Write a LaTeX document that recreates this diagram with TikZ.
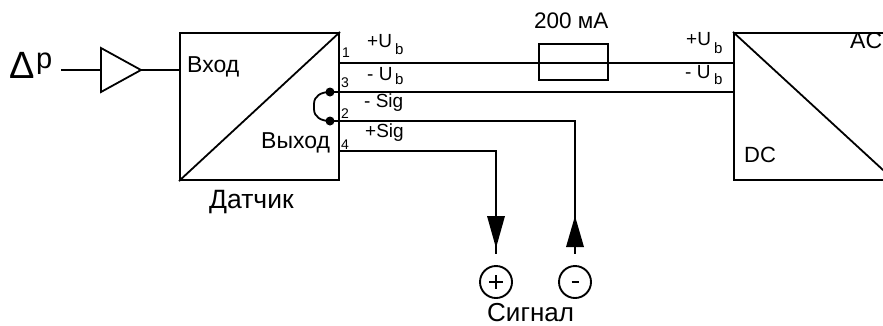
\documentclass[tikz,border=0pt]{standalone}
\usepackage{fontspec}
\setmainfont{Liberation Sans}
\newcommand{\fsz}[1]{\fontsize{#1}{#1}\selectfont}
\tikzset{
  wire/.style={line width=1.8pt},
  blockbox/.style={draw,line width=2pt,minimum width=159pt,minimum height=147pt,inner sep=0pt},
  dcbox/.style={draw,line width=2pt,minimum width=160pt,minimum height=147pt,inner sep=0pt},
  fusebox/.style={draw,line width=1.4pt,minimum width=69pt,minimum height=36pt,inner sep=0pt},
  lbl/.style={inner sep=0pt,anchor=base west,font=\fsz{23}},
  sm/.style={inner sep=0pt,anchor=base west,font=\fsz{19}},
  tiny/.style={inner sep=0pt,anchor=base west,font=\fsz{14}},
  subl/.style={inner sep=0pt,anchor=base west,font=\fsz{15}},
  dotn/.style={circle,fill,inner sep=0pt,minimum size=9pt},
  term/.style={circle,draw,line width=1.9pt,minimum size=32pt,inner sep=0pt},
}
\begin{document}
\begin{tikzpicture}[x=1pt,y=-1pt]
\clip (0,0) rectangle (883,325);
\fill[white] (0,0) rectangle (883,325);
% blocks
\node[blockbox] (sensor) at (259.5,106.5) {};
\draw[wire] (sensor.south west) -- (sensor.north east);
\node[dcbox] (dc) at (814,106.5) {};
\draw[wire] (dc.north west) -- (dc.south east);
% input
\coordinate (inp) at (61,70);
\coordinate (sinp) at (180,70);
\draw[wire,line join=miter] (101,48) coordinate (ta) -- (141,70) coordinate (tb) -- (101,92) coordinate (tc) -- cycle;
\draw[wire] (inp) -- (101,70);
\draw[wire] (tb) -- (sinp);
% outputs
\coordinate (p1) at (339,63);
\coordinate (p4) at (339,151);
\node[dotn] (p3) at (330,92) {};
\node[dotn] (p2) at (330,121) {};
\coordinate (d1) at (734,63);
\coordinate (d2) at (734,92);
\node[fusebox] (fuse) at (573.5,62) {};
\draw[wire] (p1) -- (d1);
\draw[wire] (p3.center) -- (d2);
\draw[wire] (p2.center) -- (575,121) -- (575,254) coordinate (mi);
\draw[wire] (p4) -- (496,151) -- (496,254) coordinate (pl);
\draw[wire] (p3.center) .. controls (321,92) and (314,96) .. (314,104)
  -- (314,109) .. controls (314,117) and (321,121) .. (p2.center);
% arrowheads
\fill (487,216) -- (505,216) -- (496,248) -- cycle;
\fill (566,247) -- (584,247) -- (575,216) -- cycle;
% terminals
\node[term] (tp) at (496,282) {};
\node[term] (tm) at (575,282) {};
\draw[line width=2.8pt] (489,282) -- (503,282) (496,275) -- (496,289);
\draw[line width=2.8pt] (571.5,282) -- (578.5,282);
% texts
\node[inner sep=0pt,anchor=base west,font=\fsz{38}] (dl) at (9,78) {Δ};
\node[inner sep=0pt,anchor=base west,font=\fsz{29}] (pp) at (36,68) {p};
\node[lbl] (vh) at (187,72) {Вход};
\node[lbl] (vy) at (261,148) {Выход};
\node[lbl,font=\fsz{26.5}] (da) at (209,208) {Датчик};
\node[lbl,font=\fsz{26}] (si) at (487,321) {Сигнал};
\node[lbl,font=\fsz{22.5}] (fa) at (534,28) {200 мА};
\node[lbl,font=\fsz{22}] (dct) at (744,162) {DC};
\node[lbl,font=\fsz{23}] (act) at (850,48) {AC};
\node[tiny] at (342,57) {1};
\node[tiny] at (341,87) {3};
\node[tiny] at (341,118) {2};
\node[tiny] at (341,149) {4};
\node[sm] at (367,47) {+U};
\node[subl] at (395,54) {b};
\node[sm] at (367,80) {- U};
\node[subl] at (395,84) {b};
\node[sm] at (364,107) {- Sig};
\node[sm] at (365,137) {+Sig};
\node[sm] at (686,45) {+U};
\node[subl] at (714,53) {b};
\node[sm] at (685,78) {- U};
\node[subl] at (714,84) {b};
\end{tikzpicture}
\end{document}
